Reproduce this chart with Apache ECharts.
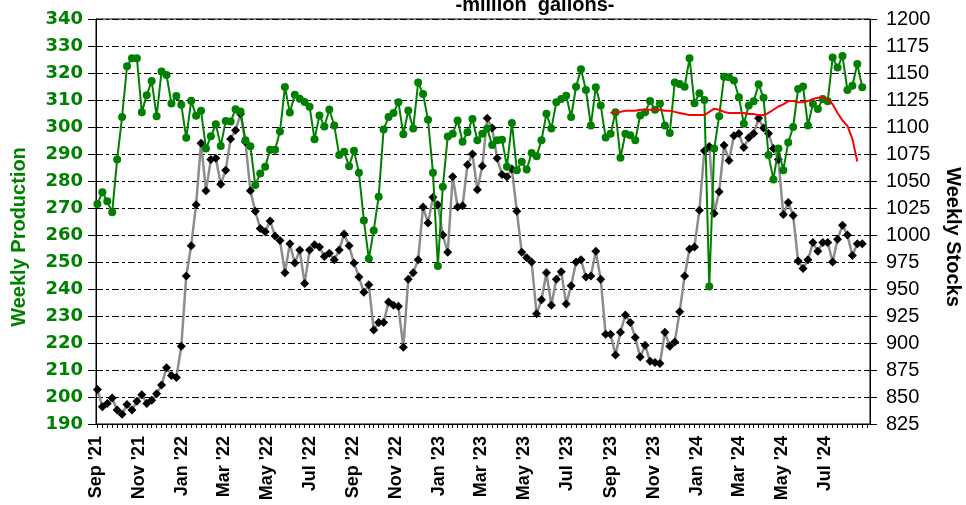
<!DOCTYPE html>
<html>
<head>
<meta charset="utf-8">
<script src="https://cdn.jsdelivr.net/npm/echarts@6/dist/echarts.min.js"></script>
<style>
html,body{margin:0;padding:0;background:#fff;}
#chart{width:966px;height:505px;}
</style>
</head>
<body>
<div id="chart"></div>
<script>
// ---- data (weekly, first week ending 2021-09-03) ----
const firstWeek = "2021-09-03";
const axisStart = "2021-09-01";
const axisEnd = "2024-09-03";

const production = [
271.5,275.8,272.5,268.4,288,303.7,322.5,325.5,325.5,305.5,
311.8,317,304,320.6,319.3,308.7,311.5,308.2,296,309.7,
304.2,306,292,296.6,301,293,302.2,302,306.6,305.7,
295.1,292.9,278.5,282.8,285.3,291.6,291.6,298.3,314.8,305.4,
311.9,310.5,309.3,307.5,295.5,304.3,300.2,306.5,300.6,289.6,
290.8,285.5,291.2,283.1,265.4,251.2,261.7,274.2,299.1,303.7,
305.2,309.2,297.3,306.1,299.4,316.5,312.2,302.7,283.1,248.5,
277.9,296.5,297.5,302.4,294.5,298.1,303,295.1,297.5,299.4,
293.3,295.1,295.3,285.3,301.5,284,287.1,284.3,290.4,289.2,
295.1,304.9,299.4,309.2,310.4,311.6,303.7,314.9,321.4,313.7,
300.6,314.7,308,296.1,297.5,305.5,288.6,297.5,296.9,295.1,
304.3,305.5,309.6,306.4,308.6,300.6,297.8,316.5,315.9,314.9,
325.5,308.8,312.5,310,240.9,292,304,318.6,318.4,317.2,
311,301.2,308,309.5,315.8,310.8,289.6,280.6,292,284,
294.3,300,314.1,315,300.6,308.6,306.7,310.4,309.5,325.7,
322,326.3,313.7,315.3,323.3,314.7
];

const stocks = [
857,841,844,849,838,834,843,838,846,852,
844,847,853,861,877,870,868,897,962,990,
1028,1085,1041,1070,1071,1047,1060,1089,1097,1112,
1086,1041,1022,1006,1003,1013,999,995,965,992,
974,986,955,986,991,989,980,983,977,986,
1001,990,974,961,947,954,912,919,919,938,
935,934,896,959,965,977,1026,1011,1035,1028,
1000,984,1054,1026,1027,1065,1075,1042,1064,1108,
1099,1071,1056,1054,1061,1022,984,979,975,927,
940,965,935,959,966,936,953,975,977,961,
962,985,959,908,908,889,910,926,919,905,
887,898,883,882,881,910,897,901,929,962,
987,989,1023,1078,1082,1020,1040,1083,1069,1092,
1094,1081,1090,1094,1108,1099,1094,1080,1070,1019,
1030,1018,976,969,977,993,985,993,993,975,
996,1009,1000,981,992,992
];

// red average line starts at week index 104
const avgStartWeek = 104;
const avgStocks = [
1113,1114,1114,1115,1115,1115,1116,1116,1116,1116,
1116,1115,1115,1114,1113,1112,1111,1111,1111,1111,
1114,1117,1116,1114,1113,1113,1113,1113,1112,1112,
1111,1111,1113,1116,1119,1121,1124,1124,1123,1123,
1124,1126,1127,1127,1126,1121,1113,1106,1101,1089,
1068
];

const tickLabels = ["Sep '21","Nov '21","Jan '22","Mar '22","May '22","Jul '22","Sep '22","Nov '22","Jan '23","Mar '23","May '23","Jul '23","Sep '23","Nov '23","Jan '24","Mar '24","May '24","Jul '24"];
const tickDates = ["2021-09-01","2021-11-01","2022-01-01","2022-03-01","2022-05-01","2022-07-01","2022-09-01","2022-11-01","2023-01-01","2023-03-01","2023-05-01","2023-07-01","2023-09-01","2023-11-01","2024-01-01","2024-03-01","2024-05-01","2024-07-01"];

// ---- helpers ----
const DAY = 86400000;
const t0 = Date.parse(axisStart);
const dayOf = d => Math.round((Date.parse(d) - t0) / DAY);
const firstDay = dayOf(firstWeek);
const weekDay = i => firstDay + 7 * i;

const prodData = production.map((v, i) => [weekDay(i), v]);
const stockData = stocks.map((v, i) => [weekDay(i), v]);
const avgData = avgStocks.map((v, i) => [weekDay(avgStartWeek + i), v]);

const labelDays = tickDates.map(dayOf);
const labelMap = {};
labelDays.forEach((d, k) => labelMap[d] = tickLabels[k]);
const weekTicks = [];
for (let i = 0; weekDay(i) <= dayOf(axisEnd); i++) weekTicks.push(weekDay(i));

const GREEN = '#008000';
const chart = echarts.init(document.getElementById('chart'));
chart.setOption({
  animation: false,
  backgroundColor: '#fff',
  title: {
    text: '-million  gallons-',
    left: 530, top: -10, textAlign: 'center',
    textStyle: {fontFamily: 'Liberation Sans', fontWeight: 'bold', fontSize: 20, color: '#000'}
  },
  grid: {left: 96, right: 96, top: 19, bottom: 81, show: true, borderColor: '#000', borderWidth: 1, backgroundColor: 'transparent'},
  xAxis: {
    type: 'value', min: 0, max: dayOf(axisEnd),
    axisLine: {show: true, lineStyle: {color: '#000', width: 1}},
    axisTick: {show: true, customValues: weekTicks, length: 4, lineStyle: {color: '#000'}},
    splitLine: {show: false},
    axisLabel: {
      customValues: labelDays, rotate: 90, margin: 12,
      fontFamily: 'Liberation Sans', fontWeight: 'bold', fontSize: 18, color: '#000',
      formatter: v => labelMap[v] || ''
    }
  },
  yAxis: [{
    type: 'value', min: 190, max: 340, interval: 10, position: 'left',
    axisLine: {show: true, lineStyle: {color: '#000'}},
    axisTick: {show: true, length: 8, lineStyle: {color: '#000'}},
    axisLabel: {margin: 13, fontFamily: 'DejaVu Sans', fontWeight: 'bold', fontSize: 18, color: GREEN},
    splitLine: {show: true, lineStyle: {color: '#000', width: 1, type: [7, 3, 3, 3]}}
  }, {
    type: 'value', min: 825, max: 1200, interval: 25, position: 'right',
    axisLine: {show: true, lineStyle: {color: '#000'}},
    axisTick: {show: true, length: 7, lineStyle: {color: '#000'}},
    axisLabel: {margin: 16, fontFamily: 'Liberation Sans', fontSize: 20, color: '#000', formatter: v => String(v)},
    splitLine: {show: false}
  }],
  graphic: [{
    type: 'text', x: 19, y: 237, rotation: Math.PI / 2,
    style: {text: 'Weekly Production', fill: GREEN, font: 'bold 20px "Liberation Sans"', align: 'center', verticalAlign: 'middle'}
  }, {
    type: 'text', x: 953, y: 237, rotation: -Math.PI / 2,
    style: {text: 'Weekly Stocks', fill: '#000', font: 'bold 20px "Liberation Sans"', align: 'center', verticalAlign: 'middle'}
  }],
  series: [{
    name: 'Weekly Production', type: 'line', yAxisIndex: 0, data: prodData,
    symbol: 'circle', symbolSize: 8, showAllSymbol: true,
    itemStyle: {color: GREEN}, lineStyle: {color: GREEN, width: 2}, z: 3
  }, {
    name: 'Weekly Stocks', type: 'line', yAxisIndex: 1, data: stockData,
    symbol: 'diamond', symbolSize: 9, showAllSymbol: true,
    itemStyle: {color: '#000'}, lineStyle: {color: '#8c8c8c', width: 2.5}, z: 2
  }, {
    name: 'Average', type: 'line', yAxisIndex: 1, data: avgData,
    symbol: 'none', lineStyle: {color: '#ff0000', width: 2}, z: 4
  }]
});
</script>
</body>
</html>
